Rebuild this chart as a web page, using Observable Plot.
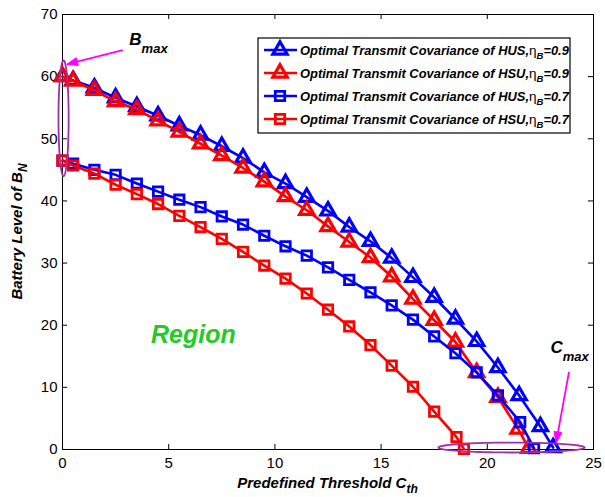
<!DOCTYPE html>
<html><head><meta charset="utf-8">
<script src="https://cdn.jsdelivr.net/npm/d3@7"></script>
<script src="https://cdn.jsdelivr.net/npm/@observablehq/plot@0.6"></script>
<style>
body{margin:0;background:#fff}
#chart{position:relative;width:605px;height:497px}
svg{overflow:visible}
</style>
</head><body><div id="chart"></div>
<script>
// ---- data ----
const xHUS09 = [0,0.5,1.5,2.5,3.5,4.5,5.5,6.5,7.5,8.5,9.5,10.5,11.5,12.5,13.5,14.5,15.5,16.5,17.5,18.5,19.5,20.5,21.5,22.5,23.1];
const yHUS09 = [60.0,59.4,58.2,56.6,55.2,53.7,52.1,50.6,48.8,46.9,44.6,42.8,40.6,38.4,35.8,33.5,30.8,27.7,24.5,21.0,17.4,13.2,8.7,3.7,0.3];
const xHSU09 = [0,0.5,1.5,2.5,3.5,4.5,5.5,6.5,7.5,8.5,9.5,10.5,11.5,12.5,13.5,14.5,15.5,16.5,17.5,18.5,19.5,20.5,21.45,21.95];
const yHSU09 = [60.0,59.3,57.8,56.0,54.7,52.9,51.1,49.2,47.3,45.3,43.1,40.7,38.5,35.9,33.4,30.9,27.8,24.2,20.8,17.3,12.4,8.4,3.3,0.2];
const xHUS07 = [0,0.5,1.5,2.5,3.5,4.5,5.5,6.5,7.5,8.5,9.5,10.5,11.5,12.5,13.5,14.5,15.5,16.5,17.5,18.5,19.5,20.5,21.55,22.2];
const yHUS07 = [46.5,46.0,45.0,44.2,42.8,41.5,40.2,39.0,37.5,36.2,34.4,32.7,31.2,29.3,27.3,25.3,23.2,20.9,18.2,15.5,12.4,8.7,4.4,0.2];
const xHSU07 = [0,0.5,1.5,2.5,3.5,4.5,5.5,6.5,7.5,8.5,9.5,10.5,11.5,12.5,13.5,14.5,15.5,16.5,17.5,18.55,18.9];
const yHSU07 = [46.5,45.7,44.4,42.6,41.1,39.5,37.6,35.8,33.9,31.8,29.6,27.5,25.1,22.5,19.8,16.8,13.5,10.1,6.1,2.0,0.1];

const seriesLabels = ["Optimal Transmit Covariance of HUS,", "Optimal Transmit Covariance of HSU,", "Optimal Transmit Covariance of HUS,", "Optimal Transmit Covariance of HSU,"];
const seriesEta = ["=0.9", "=0.9", "=0.7", "=0.7"];
const xTicks = [0,5,10,15,20,25];
const yTicks = [0,10,20,30,40,50,60,70];
const xLabel = "Predefined Threshold C";
const xLabelSub = "th";
const yLabel = "Battery Level of B";
const yLabelSub = "N";
const regionText = "Region";

// build tables
const mk = (xs, ys, s) => xs.map((x, i) => ({x, y: ys[i], s}));
const series = [
  {data: mk(xHUS09, yHUS09, 0), color: "#0000ff", symbol: "triangle"},
  {data: mk(xHSU09, yHSU09, 1), color: "#ff0000", symbol: "triangle"},
  {data: mk(xHUS07, yHUS07, 2), color: "#0000ff", symbol: "square"},
  {data: mk(xHSU07, yHSU07, 3), color: "#ff0000", symbol: "square"}
];

// annotation ellipses (center, radii in data units)
function ellipse(cx, cy, rx, ry) {
  return d3.range(0, 361, 4).map(a => ({x: cx + rx * Math.cos(a * Math.PI / 180), y: cy + ry * Math.sin(a * Math.PI / 180)}));
}
const ell1 = ellipse(0.05, 53.3, 0.24, 9.3);
const ell2 = ellipse(21.14, 0.32, 3.44, 0.8);
const arrows = [
  {x1: 2.86, y1: 64.2, x2: 0.22, y2: 61.9},
  {x1: 23.87, y1: 12.4, x2: 23.26, y2: 0.97}
];

const tickLenX = 0.8, tickLenY = 0.24;
const triR = 5.3, sqR = 5.3;
const marks = [
  Plot.frame({stroke: "#000", strokeWidth: 1}),
  Plot.ruleX(xTicks, {x: d => d, y1: 0, y2: tickLenX, stroke: "#000"}),
  Plot.ruleX(xTicks, {x: d => d, y1: 70, y2: 70 - tickLenX, stroke: "#000"}),
  Plot.ruleY(yTicks, {y: d => d, x1: 0, x2: tickLenY, stroke: "#000"}),
  Plot.ruleY(yTicks, {y: d => d, x1: 25, x2: 25 - tickLenY, stroke: "#000"}),
  Plot.axisX({ticks: xTicks, tickSize: 0, tickPadding: 8, label: null, fontSize: 15}),
  Plot.axisY({ticks: yTicks, tickSize: 0, tickPadding: 5, label: null, fontSize: 15})
];
for (const s of series) {
  marks.push(Plot.line(s.data, {x: "x", y: "y", stroke: s.color, strokeWidth: 2.6}));
  marks.push(Plot.dot(s.data, {x: "x", y: "y", stroke: s.color, strokeWidth: s.symbol === "triangle" ? 3.2 : 2.8, fill: "none", symbol: s.symbol, r: s.symbol === "triangle" ? triR : sqR}));
}
marks.push(Plot.line(ell1, {x: "x", y: "y", stroke: "#a62ca6", strokeWidth: 1.8}));
marks.push(Plot.line(ell2, {x: "x", y: "y", stroke: "#a62ca6", strokeWidth: 1.8}));

const plot = Plot.plot({
  width: 605, height: 497,
  marginLeft: 62, marginRight: 12, marginTop: 14, marginBottom: 48,
  x: {domain: [0, 25]},
  y: {domain: [0, 70]},
  style: {fontFamily: "'Liberation Sans', Arial, sans-serif", fontSize: "15px", color: "#000", background: "#fff"},
  marks
});
document.getElementById("chart").appendChild(plot);

const X = plot.scale("x"), Y = plot.scale("y");
const svg = d3.select(plot);
const FF = "'Liberation Sans', Arial, sans-serif";

// arrows (shaft + filled head) positioned through the plot's scales
for (const a of arrows) {
  const x1 = X.apply(a.x1), y1 = Y.apply(a.y1), x2 = X.apply(a.x2), y2 = Y.apply(a.y2);
  const L = Math.hypot(x2 - x1, y2 - y1), ux = (x2 - x1) / L, uy = (y2 - y1) / L;
  const hl = 11, hw = 4;
  const bx = x2 - ux * hl, by = y2 - uy * hl;
  svg.append("line").attr("x1", x1).attr("y1", y1).attr("x2", bx).attr("y2", by)
    .attr("stroke", "#ff00ff").attr("stroke-width", 1.8);
  svg.append("path").attr("d", `M${x2},${y2}L${bx - uy * hw},${by + ux * hw}L${bx + uy * hw},${by - ux * hw}Z`)
    .attr("fill", "#ff00ff").attr("stroke", "#ff00ff").attr("stroke-width", 1);
}

// axis labels
const xl = svg.append("text").attr("x", (X.apply(0) + X.apply(25)) / 2).attr("y", 488)
  .attr("text-anchor", "middle").attr("font-family", FF).attr("font-size", 15)
  .attr("font-weight", "bold").attr("font-style", "italic").attr("fill", "#000");
xl.append("tspan").text(xLabel);
xl.append("tspan").attr("dy", 5).attr("font-size", 12).text(xLabelSub);

const yl = svg.append("text").attr("transform", `translate(22,${(Y.apply(0) + Y.apply(70)) / 2}) rotate(-90)`)
  .attr("text-anchor", "middle").attr("font-family", FF).attr("font-size", 15)
  .attr("font-weight", "bold").attr("font-style", "italic").attr("fill", "#000");
yl.append("tspan").text(yLabel);
yl.append("tspan").attr("dy", 5).attr("font-size", 12).text(yLabelSub);

// annotations
function subText(x, y, main, sub, size, subSize) {
  const t = svg.append("text").attr("x", x).attr("y", y).attr("text-anchor", "start").attr("font-family", FF)
    .attr("font-size", size).attr("font-weight", "bold").attr("font-style", "italic").attr("fill", "#000");
  t.append("tspan").text(main);
  t.append("tspan").attr("dy", 8).attr("font-size", subSize).text(sub);
}
subText(X.apply(3.17), Y.apply(65.0), "B", "max", 17, 13);
subText(X.apply(23.0), Y.apply(15.5), "C", "max", 17, 13);
svg.append("text").attr("x", X.apply(4.19)).attr("y", Y.apply(17.06)).attr("text-anchor", "start")
  .attr("font-family", FF).attr("font-size", 25).attr("font-weight", "bold").attr("font-style", "italic")
  .attr("fill", "#22cc22").text(regionText);

// legend
const lg = svg.append("g");
const lx = 258, ly = 38, lw = 312, lh = 95, rowH = 23, row0 = 50;
lg.append("rect").attr("x", lx).attr("y", ly).attr("width", lw).attr("height", lh)
  .attr("fill", "#fff").attr("stroke", "#000").attr("stroke-width", 1.2);
series.forEach((s, i) => {
  const cy = row0 + i * rowH;
  lg.append("line").attr("x1", lx + 6).attr("x2", lx + 39).attr("y1", cy).attr("y2", cy)
    .attr("stroke", s.color).attr("stroke-width", 2.6);
  const sym = s.symbol === "triangle" ? d3.symbolTriangle : d3.symbolSquare;
  const r = s.symbol === "triangle" ? triR : sqR;
  lg.append("path").attr("transform", `translate(${lx + 22},${cy})`)
    .attr("d", d3.symbol(sym, r * r * Math.PI)()).attr("fill", "none")
    .attr("stroke", s.color).attr("stroke-width", s.symbol === "triangle" ? 3.2 : 2.8);
  const t = lg.append("text").attr("x", lx + 42).attr("y", cy + 4.5).attr("text-anchor", "start").attr("font-family", FF)
    .attr("font-size", 12.9).attr("font-weight", "bold").attr("font-style", "italic").attr("fill", "#000");
  t.append("tspan").text(seriesLabels[i]);
  t.append("tspan").attr("font-style", "normal").attr("font-weight", "normal").attr("font-size", 13.5).text("η");
  t.append("tspan").attr("dy", 4).attr("font-size", 9.5).text("B");
  t.append("tspan").attr("dy", -4).text(seriesEta[i]);
});
</script>
</body></html>
